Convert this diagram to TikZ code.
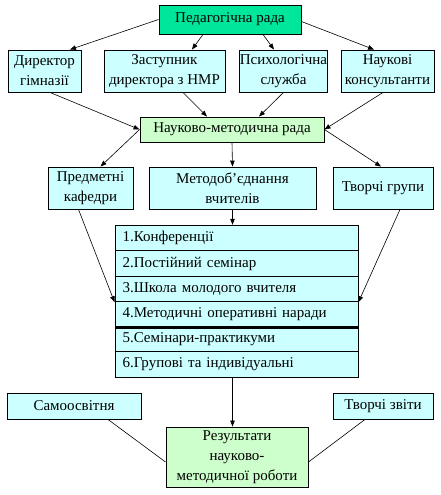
\documentclass[tikz,border=0pt]{standalone}
\usepackage{fontspec}
\setmainfont{Liberation Serif}
\usetikzlibrary{arrows.meta}
\definecolor{radagreen}{RGB}{0,230,155}
\definecolor{palegreen}{RGB}{204,255,204}
\definecolor{palecyan}{RGB}{204,255,255}

\begin{document}
\begin{tikzpicture}[x=1pt,y=-1pt,
    box/.style={draw,line width=0.9pt,fill=palecyan,align=center,inner sep=0pt,
      font=\fontsize{15}{20}\selectfont},
    item/.style={box,minimum width=243pt,minimum height=25.5pt,text width=228pt,align=left},
    arr/.style={-{Triangle[length=6pt,width=4.5pt]},line width=0.6pt},
    link/.style={line width=0.6pt}]
      % canvas: 1pt = 1px of the 440x495 reference
      \useasboundingbox (0,0) rectangle (440,495);
      % top
      \node[box,fill=radagreen,minimum width=142pt,minimum height=29pt] (pedrada) at (230,19.5) {Педагогічна рада};
      % second row
      \node[box,minimum width=73pt,minimum height=42pt] (dyrektor) at (44.5,71) {Директор\\гімназії};
      \node[box,minimum width=121pt,minimum height=42pt] (zastupnyk) at (164.5,71) {Заступник\\директора з НМР};
      \node[box,minimum width=85pt,minimum height=42pt] (psyh) at (283.5,71) {Психологічна\\служба};
      \node[box,minimum width=93pt,minimum height=42pt] (konsult) at (387.5,71) {Наукові\\консультанти};
      % council
      \node[box,fill=palegreen,minimum width=184pt,minimum height=25pt] (nmrada) at (232,129.5) {Науково-методична рада};
      % third row
      \node[box,minimum width=85pt,minimum height=42pt] (kafedry) at (90.5,188) {Предметні\\кафедри};
      \node[box,minimum width=167pt,minimum height=42pt] (metod) at (232.5,188) {Методоб’єднання\\вчителів};
      \node[box,minimum width=100pt,minimum height=42pt] (grupy) at (383,188) {Творчі групи};
      % list of forms
      \foreach \i/\txt [count=\k] in {238/1.Конференції,263.5/2.Постійний семінар,289/3.Школа молодого вчителя,
                                      314.5/4.Методичні оперативні наради,339.5/5.Семінари-практикуми,364.5/6.Групові та індивідуальні} {
        \node[item] (form\k) at (236.5,\i) {\txt};
      }
      \draw[line width=2pt] (form4.south west) -- (form4.south east);
      % bottom row
      \node[box,minimum width=134pt,minimum height=26pt] (samo) at (74,406) {Самоосвітня};
      \node[box,minimum width=100pt,minimum height=26pt] (zvity) at (383,406) {Творчі звіти};
      \node[box,fill=palegreen,minimum width=142pt,minimum height=60pt] (rezult) at (237,457) {Результати\\науково-\\методичної роботи};

      % connectors
      \draw[arr] (pedrada.west) -- ([xshift=25.5pt]dyrektor.north);
      \draw[arr] ([xshift=-27pt]pedrada.south) -- ([xshift=27.5pt]zastupnyk.north);
      \draw[arr] ([xshift=33pt]pedrada.south) -- ([xshift=-9.5pt]psyh.north);
      \draw[arr] ([yshift=-2pt]pedrada.east) -- ([xshift=-13.5pt]konsult.north);
      \draw[arr] ([xshift=5.5pt]dyrektor.south) -- (nmrada.west);
      \draw[arr] ([xshift=18.5pt]zastupnyk.south) -- ([xshift=-25pt]nmrada.north);
      \draw[arr] (psyh.south) -- ([xshift=27pt]nmrada.north);
      \draw[arr] ([xshift=-4.5pt]konsult.south) -- (nmrada.east);
      \draw[arr] (nmrada.west) -- ([xshift=10pt]kafedry.north);
      \draw[arr] (nmrada.south) -- (metod.north);
      \draw[arr] (nmrada.east) -- ([xshift=-2pt]grupy.north);
      \draw[arr] (metod.south) -- (metod.south |- form1.north);
      \draw[arr] ([xshift=-12pt]kafedry.south) -- (form3.south west);
      \draw[arr] ([xshift=17pt]grupy.south) -- (form3.south east);
      \draw[arr] (metod.south |- form6.south) -- (metod.south |- rezult.north);
      \draw[link] ([xshift=34pt]samo.south) -- ([yshift=-5pt]rezult.west);
      \draw[link] ([xshift=-18pt]zvity.south) -- ([yshift=-5pt]rezult.east);
\end{tikzpicture}
\end{document}
